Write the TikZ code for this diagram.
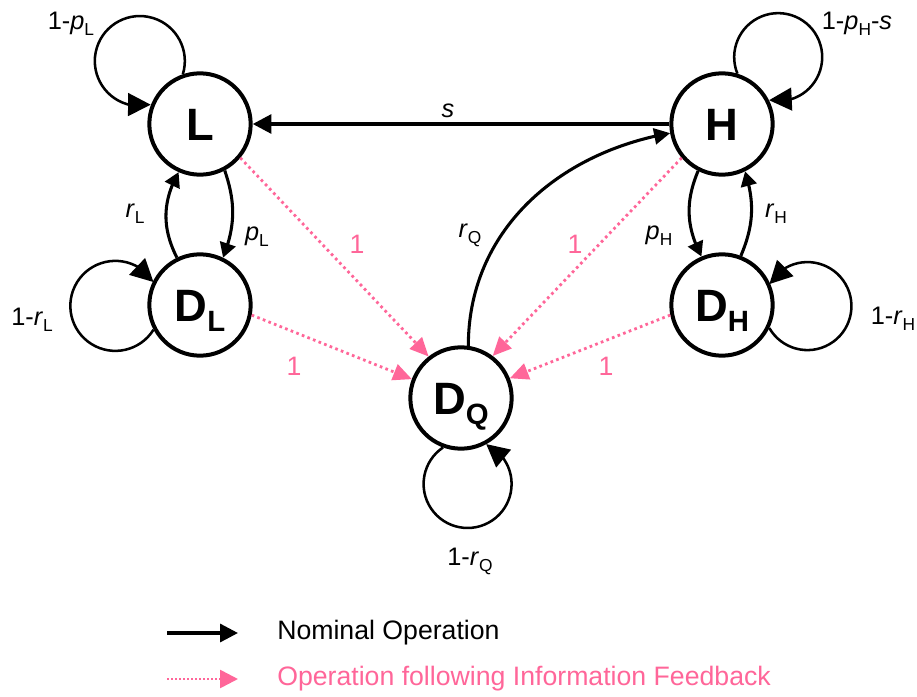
\documentclass[tikz,border=0pt]{standalone}
\usepackage{fontspec}
\setmainfont{Liberation Sans}
\usetikzlibrary{arrows.meta,bending}
\definecolor{fbpink}{RGB}{255,102,153}
\newcommand\nsub[1]{\raisebox{-7.5pt}{\fontsize{22}{22}\selectfont #1}}
\newcommand\lsub[1]{\raisebox{-4.5pt}{\fontsize{13}{13}\selectfont\upshape #1}}
\begin{document}
\begin{tikzpicture}[x=0.75pt,y=0.75pt,
  state/.style={circle, draw, line width=3pt, minimum size=76pt, inner sep=0pt, fill=white,
    font=\fontsize{34}{34}\selectfont\bfseries, text height=24.3pt, text depth=0pt},
  lbl/.style={inner sep=0pt, font=\fontsize{19}{19}\selectfont, text height=13.6pt, text depth=0pt},
  plbl/.style={inner sep=0pt, text=fbpink, font=\fontsize{20}{20}\selectfont, text height=14.3pt, text depth=0pt},
  legtxt/.style={inner sep=0pt, anchor=west, font=\fontsize{20}{20}\selectfont},
  nom/.style={line width=2.3pt, -{Triangle[length=11pt,width=12pt]}},
  nombig/.style={line width=2.3pt, -{Triangle[length=12pt,width=12pt]}},
  sline/.style={line width=2.8pt, -{Triangle[length=14pt,width=14pt]}},
  loopst/.style={line width=1.9pt, -{Triangle[length=17pt,width=17pt]}},
  fb/.style={fbpink, line width=2.1pt, dash pattern=on 2pt off 2.5pt, -{Triangle[length=14pt,width=12.5pt]}},
  legnom/.style={line width=2.5pt, -{Triangle[length=13.5pt,width=13.5pt]}},
  legfb/.style={fbpink, line width=2pt, dash pattern=on 1.5pt off 1.5pt, -{Triangle[length=13.5pt,width=13.5pt]}}
]
\useasboundingbox (0,0) rectangle (917,-696);

% states
\node[state] (L)  at (200,-124) {L};
\node[state] (DL) at (200,-305) {D\nsub{L}};
\node[state] (H)  at (722,-124) {H};
\node[state] (DH) at (722,-305) {D\nsub{H}};
\node[state] (DQ) at (461,-398) {D\nsub{Q}};

% self loops
\draw[loopst] (L.109) arc[start angle=-17, end angle=284, radius=33.75pt];
\draw[loopst] (DL.208) arc[start angle=-32, end angle=-328, radius=33.75pt];
\draw[loopst] (H.73) arc[start angle=202, end angle=-102, radius=33pt];
\draw[loopst] (DH.-26) arc[start angle=210, end angle=510, radius=33pt];
\draw[loopst] (DQ.250) arc[start angle=124, end angle=425, radius=33pt];

% nominal transitions
\draw[sline] (H) -- (L);
\draw[nombig] (DQ.82) to[out=90, in=190] (H.190);
\draw[nom] (L.-62) to[bend left=20] (DL.64);
\draw[nom] (DL.116) to[bend left=28] (L.246);
\draw[nom] (H.243) to[bend right=25] (DH.113);
\draw[nom] (DH.69) to[bend right=20] (H.296);

% feedback transitions
\draw[fb] (L.-40) -- (DQ.128);
\draw[fb] (DL.-11) -- (DQ.159);
\draw[fb] (H.220) -- (DQ.53);
\draw[fb] (DH.191) -- (DQ.22);

% labels
\node[lbl] (t1) at (71,-20) {1-\textit{p}\lsub{L}};
\node[lbl] (t2) at (32,-316) {1-\textit{r}\lsub{L}};
\node[lbl] (t3) at (135,-208) {\textit{r}\lsub{L}};
\node[lbl] (t4) at (257,-231) {\textit{p}\lsub{L}};
\node[lbl] (t5) at (448,-108) {\textit{s}};
\node[lbl] (t6) at (857,-20) {1-\textit{p}\lsub{H}-\textit{s}};
\node[lbl] (t7) at (659,-230) {\textit{p}\lsub{H}};
\node[lbl] (t8) at (776,-208) {\textit{r}\lsub{H}};
\node[lbl] (t9) at (893,-315) {1-\textit{r}\lsub{H}};
\node[lbl] (t10) at (470,-228) {\textit{r}\lsub{Q}};
\node[lbl] (t11) at (470,-556) {1-\textit{r}\lsub{Q}};

\node[plbl] (p1) at (357,-244) {1};
\node[plbl] (p2) at (294,-366) {1};
\node[plbl] (p3) at (575,-244) {1};
\node[plbl] (p4) at (606,-366) {1};

% legend
\coordinate (g1s) at (167,-633);
\coordinate (g1e) at (238,-633);
\coordinate (g2s) at (167,-679);
\coordinate (g2e) at (238,-679);
\draw[legnom] (g1s) -- (g1e);
\draw[legfb] (g2s) -- (g2e);
\node[legtxt] (n1) at (277,-633) {Nominal Operation};
\node[legtxt, text=fbpink] (n2) at (277,-679) {Operation following Information Feedback};
\end{tikzpicture}
\end{document}
